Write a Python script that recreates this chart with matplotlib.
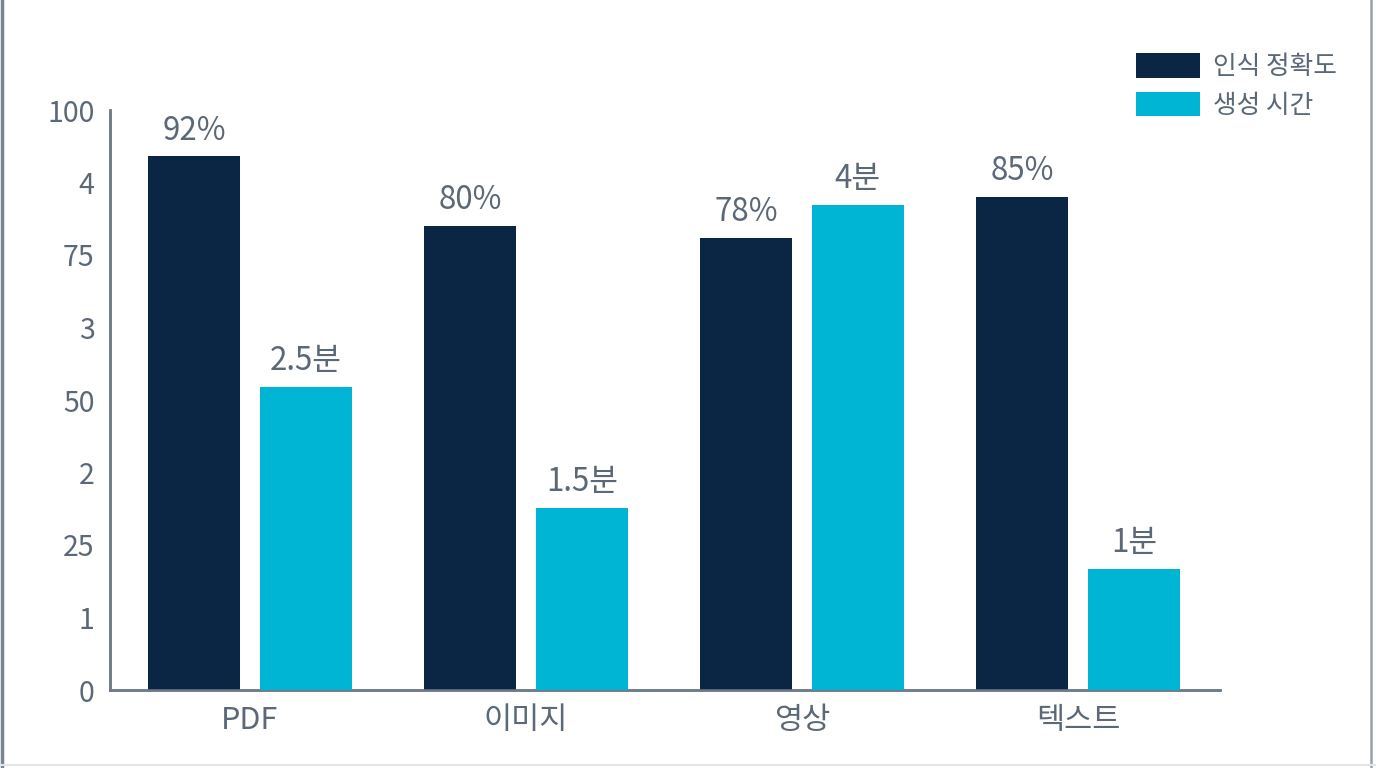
import matplotlib
matplotlib.use("Agg")
import matplotlib.pyplot as plt
import numpy as np

plt.rcParams['font.family'] = ['Noto Sans CJK KR', 'DejaVu Sans']

categories = ['PDF', '이미지', '영상', '텍스트']
accuracy = [92, 80, 78, 85]          # %
gen_time = [2.5, 1.5, 4, 1]          # 분
ytick_pos = [0, 12.5, 25, 37.5, 50, 62.5, 75, 87.5, 100]
ytick_labels = ['0', '1', '25', '2', '50', '3', '75', '4', '100']

navy = '#0b2545'
cyan = '#00b4d4'
txt = '#5b6877'
spine = '#6e7a87'

fig = plt.figure(figsize=(13.76, 7.68), dpi=100)
ax = fig.add_axes([110/1376, 78/768, 1110/1376, 580/768])
ax2 = ax.twinx()

x = np.arange(len(categories))
w = 0.333
off = 0.202

b1 = ax.bar(x - off, accuracy, w, color=navy, label='인식 정확도', zorder=3)
b2 = ax2.bar(x + off, gen_time, w, color=cyan, label='생성 시간', zorder=3)

ax.set_ylim(0, 100)
ax2.set_ylim(0, 4.78)
ax.set_xlim(-0.507, 3.514)

ax.set_yticks(ytick_pos)
ax.set_yticklabels(ytick_labels)
ax.set_xticks(x)
ax.set_xticklabels(categories)
ax.tick_params(axis='y', length=0, pad=11, labelsize=20.5, labelcolor=txt)
ax.tick_params(axis='x', length=0, pad=11, labelsize=22, labelcolor=txt)
ax2.set_yticks([])

for a in (ax, ax2):
    for s in ['top', 'right']:
        a.spines[s].set_visible(False)
    a.spines['left'].set_color(spine)
    a.spines['bottom'].set_color(spine)
    a.spines['left'].set_linewidth(1.8)
    a.spines['bottom'].set_linewidth(1.8)

ax.bar_label(b1, labels=[f'{v}%' for v in accuracy], padding=7,
             fontsize=22.5, color=txt)
ax2.bar_label(b2, labels=[f'{v}분' for v in gen_time], padding=7,
              fontsize=22.5, color=txt)

fig.legend(handles=[b1, b2], loc='upper left',
           bbox_to_anchor=(1113/1376, 1 - 30/768), frameon=False,
           fontsize=18.5, labelcolor=txt, handlelength=2.5, handleheight=1.1,
           handletextpad=0.5, labelspacing=0.45)

# outer frame lines
fig.add_artist(plt.Line2D([0.0015, 0.0015], [0, 1], color='#7a8590', lw=2.5))
fig.add_artist(plt.Line2D([0.9965, 0.9965], [0, 1], color='#9aa3ac', lw=1.8))
fig.add_artist(plt.Line2D([0, 1], [0.004, 0.004], color='#e3e6e9', lw=1.5))

fig.savefig('out.png', dpi=100, facecolor='white')
